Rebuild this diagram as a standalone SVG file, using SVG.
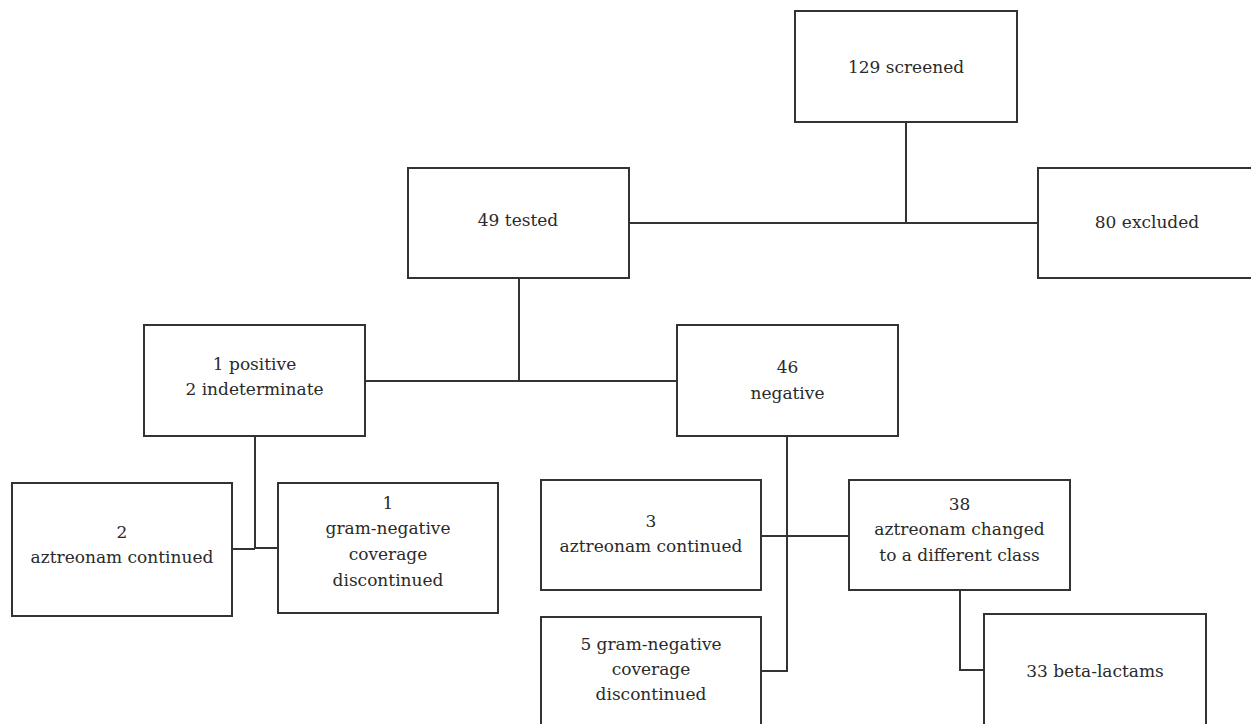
<svg xmlns="http://www.w3.org/2000/svg" width="1251" height="724" viewBox="0 0 1251 724">
<style>
.box{fill:#fff;stroke:#333;stroke-width:2}
.ln{fill:none;stroke:#333;stroke-width:2}
text{font-family:'DejaVu Serif',serif;font-size:17px;fill:#2a2a2a;text-anchor:middle}
</style>
<rect width="1251" height="724" fill="#fff"/>
<g id="connectors">
<path class="ln" d="M906 122V223M629 223H1038"/>
<path class="ln" d="M519 278V381M365 381H677"/>
<path class="ln" d="M255 436V548M232 549H255M255 548H278"/>
<path class="ln" d="M787 436V671H761M761 536H849"/>
<path class="ln" d="M960 590V670H984"/>
</g>
<g id="n-screened"><rect class="box" x="795" y="11" width="222" height="111"/><text x="906" y="73">129 screened</text></g>
<g id="n-tested"><rect class="box" x="408" y="168" width="221" height="110"/><text x="518" y="226">49 tested</text></g>
<g id="n-excluded"><rect class="box" x="1038" y="168" width="220" height="110"/><text x="1147" y="228">80 excluded</text></g>
<g id="n-positive"><rect class="box" x="144" y="325" width="221" height="111"/><text x="254.5" y="370">1 positive</text><text x="254.5" y="395">2 indeterminate</text></g>
<g id="n-negative"><rect class="box" x="677" y="325" width="221" height="111"/><text x="787.5" y="373">46</text><text x="787.5" y="399">negative</text></g>
<g id="n-azt2"><rect class="box" x="12" y="483" width="220" height="133"/><text x="122" y="538">2</text><text x="122" y="563">aztreonam continued</text></g>
<g id="n-gn1"><rect class="box" x="278" y="483" width="220" height="130"/><text x="388" y="509">1</text><text x="388" y="534">gram-negative</text><text x="388" y="560">coverage</text><text x="388" y="586">discontinued</text></g>
<g id="n-azt3"><rect class="box" x="541" y="480" width="220" height="110"/><text x="651" y="527">3</text><text x="651" y="552">aztreonam continued</text></g>
<g id="n-changed"><rect class="box" x="849" y="480" width="221" height="110"/><text x="959.5" y="510">38</text><text x="959.5" y="535">aztreonam changed</text><text x="959.5" y="561">to a different class</text></g>
<g id="n-gn5"><rect class="box" x="541" y="617" width="220" height="115"/><text x="651" y="650">5 gram-negative</text><text x="651" y="675">coverage</text><text x="651" y="700">discontinued</text></g>
<g id="n-beta"><rect class="box" x="984" y="614" width="222" height="118"/><text x="1095" y="677">33 beta-lactams</text></g>
</svg>
